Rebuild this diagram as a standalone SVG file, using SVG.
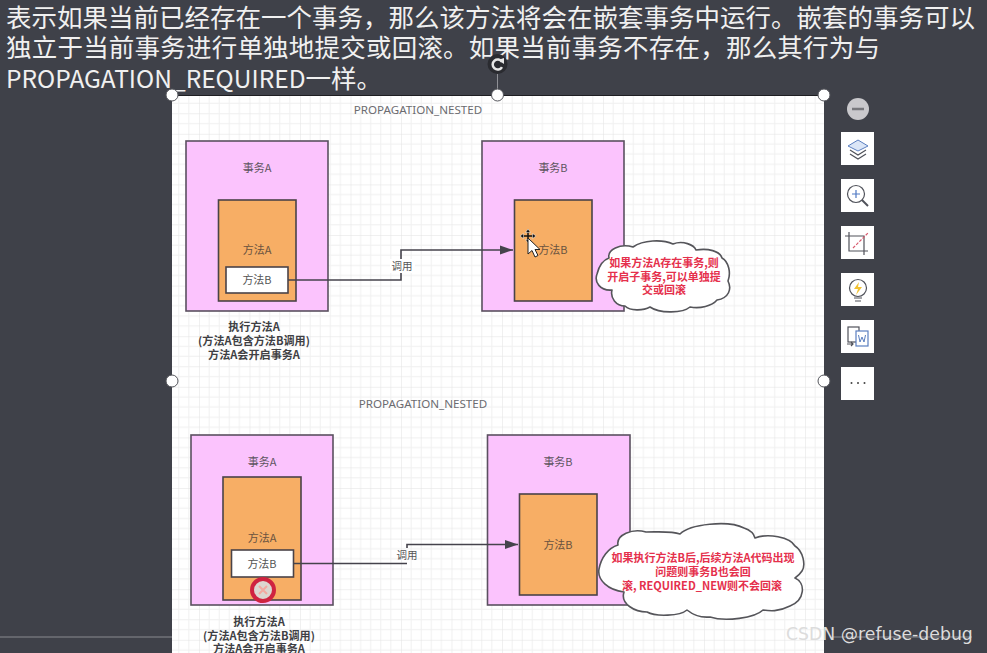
<svg xmlns="http://www.w3.org/2000/svg" width="987" height="653" viewBox="0 0 987 653">
<style>
text{font-family:"Noto Sans CJK SC","Noto Sans",sans-serif}
.tx{font-size:11px;fill:#5e5560;text-anchor:middle}
.tm{font-size:11px;fill:#6a5340;text-anchor:middle}
.tw{font-size:11px;fill:#555;text-anchor:middle}
.cap{font-size:11.100px;font-weight:700;fill:#3f3f44;text-anchor:middle}
.title{font-size:11.600px;fill:#6b6b70;text-anchor:middle;font-family:"Noto Sans",sans-serif}
.head{font-size:25.500px;fill:#f0f0f0}
.pink{fill:#fbc3fd;stroke:#5b5060;stroke-width:1.6}
.org{fill:#f7ae65;stroke:#4a4348;stroke-width:1.6}
.wht{fill:#fff;stroke:#4a4348;stroke-width:1.6}
.conn{fill:none;stroke:#45434c;stroke-width:1.6}
.cloud{fill:#fff;stroke:#55555a;stroke-width:1.6;stroke-linejoin:round}
.red{font-size:11px;font-weight:700;fill:#e5304c;text-anchor:middle}
.handle{fill:#fff;stroke:#55565c;stroke-width:1}
.btn{fill:#fff}
.ic{fill:none;stroke:#50525a;stroke-width:1.2}
</style>
<defs>
<pattern id="grid" x="350.5" y="184.4" width="50.5" height="50.6" patternUnits="userSpaceOnUse">
<path d="M10.1 0V50.6M20.2 0V50.6M30.3 0V50.6M40.4 0V50.6M0 10.1H50.5M0 20.2H50.5M0 30.4H50.5M0 40.5H50.5" stroke="#f0f0f0" stroke-width="1" fill="none"/>
<path d="M0 0V50.6M0 0H50.5" stroke="#e2e2e2" stroke-width="1" fill="none"/>
</pattern>
<marker id="arr" markerUnits="userSpaceOnUse" markerWidth="14" markerHeight="10" refX="13" refY="5" orient="auto"><path d="M0 .5L13 5L0 9.500Z" fill="#45434c"/></marker>
</defs>
<rect width="987" height="653" fill="#3f4149"/>
<path d="M0 637H172M833 637H972" stroke="#8a8b90" stroke-width="1"/>
<g id="canvas">
<rect x="172" y="96" width="652" height="557" fill="#fff"/>
<rect x="172" y="96" width="652" height="557" fill="url(#grid)"/>
<path d="M172 95.500H824" stroke="#1e1e22" stroke-width="1"/>
</g>
<g id="heading">
<text class="head" x="6" y="26.500" textLength="969" lengthAdjust="spacing">表示如果当前已经存在一个事务，那么该方法将会在嵌套事务中运行。嵌套的事务可以</text>
<text class="head" x="6" y="57" textLength="874" lengthAdjust="spacing">独立于当前事务进行单独地提交或回滚。如果当前事务不存在，那么其行为与</text>
<text class="head" x="6" y="87.500"><tspan style="font-size:24.500px">PROPAGATION_REQUIRED</tspan>一样。</text>
</g>
<text class="title" x="418" y="113.500">PROPAGATION_NESTED</text>
<text class="title" x="423" y="407.500">PROPAGATION_NESTED</text>

<g id="tx-a-1"><rect class="pink" x="186" y="141" width="142" height="170"/><text class="tx" x="257" y="172">事务A</text></g>
<g id="method-a-1"><rect class="org" x="218.500" y="200" width="77.500" height="101"/><text class="tm" x="257" y="254">方法A</text></g>
<g id="method-b-in-a-1"><rect class="wht" x="226" y="267" width="62" height="26"/><text class="tw" x="257" y="284">方法B</text></g>
<g id="tx-b-1"><rect class="pink" x="482" y="141" width="142" height="170"/><text class="tx" x="553" y="172">事务B</text></g>
<g id="method-b-1"><rect class="org" x="514.500" y="200" width="77.500" height="101"/><text class="tm" x="553" y="254">方法B</text></g>
<g id="caption-1">
<text class="cap" x="254" y="331">执行方法A</text>
<text class="cap" x="254" y="345">(方法A包含方法B调用)</text>
<text class="cap" x="254" y="358.500">方法A会开启事务A</text>
</g>

<g id="tx-a-2"><rect class="pink" x="191" y="435" width="142" height="170"/><text class="tx" x="262" y="466">事务A</text></g>
<g id="method-a-2"><rect class="org" x="223" y="477" width="78" height="123"/><text class="tm" x="262" y="542">方法A</text></g>
<g id="method-b-in-a-2"><rect class="wht" x="231.500" y="550" width="62" height="27"/><text class="tw" x="262" y="568">方法B</text></g>
<g id="error-mark">
<circle cx="263" cy="590" r="11" fill="#dcd6d0" stroke="#cf2340" stroke-width="4"/>
<path d="M259 586L267 594M267 586L259 594" stroke="#f3a9a0" stroke-width="2"/>
</g>
<g id="tx-b-2"><rect class="pink" x="487.500" y="435" width="142.500" height="170"/><text class="tx" x="558" y="466">事务B</text></g>
<g id="method-b-2"><rect class="org" x="519.500" y="494" width="77.500" height="101"/><text class="tm" x="558" y="549">方法B</text></g>
<g id="caption-2">
<text class="cap" x="259" y="626">执行方法A</text>
<text class="cap" x="259" y="640">(方法A包含方法B调用)</text>
<text class="cap" x="259" y="653">方法A会开启事务A</text>
</g>

<g id="connectors">
<path class="conn" d="M288 280H401V250H513" marker-end="url(#arr)"/>
<path class="conn" d="M293 563.500H407M407 548V544.500H518" marker-end="url(#arr)"/>
</g>
<g id="label-1"><rect x="390" y="259" width="25" height="14" fill="#fff"/><text class="tw" x="402" y="270" style="font-size:10.500px">调用</text></g>
<g id="label-2"><text class="tw" x="407" y="559" style="font-size:10.500px">调用</text></g>

<g id="cloud-1">
<path class="cloud" d="M612 290C600 291 594 282 597 274C599 266 603 260 609 258C607 250 620 243 633 247C643 240 662 239 673 244C683 240 694 245 696 250C708 248 720 251 722 258C729 262 731 273 728 281C732 289 729 298 717 300C712 306 700 309 690 307C683 313 660 314 650 307C643 311 630 311 625 306C616 306 610 298 612 290Z"/>
<text class="red" x="664" y="267">如果方法A存在事务,则</text>
<text class="red" x="664" y="281">开启子事务,可以单独提</text>
<text class="red" x="664" y="294">交或回滚</text>
</g>
<g id="cursor">
<path d="M528 231V241M523 236H533" stroke="#111" stroke-width="1.500"/>
<path d="M528 229L525.500 232.500H530.500ZM528 243L525.500 239.500H530.500ZM520 236L523.500 233.500V238.500ZM536 236L532.500 233.500V238.500Z" fill="#111" stroke="#fff" stroke-width=".5"/>
<path d="M528 238V254L532 250.500L535 257L538 255.500L535 249.500H540Z" fill="#fff" stroke="#222" stroke-width="1"/>
</g>
<g id="cloud-2">
<path class="cloud" d="M624 592C608 590 597 580 599 569C601 558 608 548 618 545C616 535 632 528 646 532C660 532 672 531 680 534C690 524 728 520 744 528C750 530 754 534 755 538C768 533 790 537 795 546C803 551 806 565 802 571C800 574 798 576 795 578C806 583 805 600 790 606C778 612 770 611 763 610C755 618 725 622 710 617C700 618 692 614 687 610C680 616 656 617 647 612C635 612 620 604 624 592Z"/>
<text class="red" x="703" y="562">如果执行方法B后,后续方法A代码出现</text>
<text class="red" x="703" y="576">问题则事务B也会回</text>
<text class="red" x="702" y="590">滚, REQUIRED_NEW则不会回滚</text>
</g>

<g id="handles">
<path d="M497.500 72V95" stroke="#8f9096" stroke-width="1"/>
<circle class="handle" cx="172" cy="95" r="6"/>
<circle class="handle" cx="497.500" cy="95" r="6"/>
<circle class="handle" cx="824" cy="95" r="6"/>
<circle class="handle" cx="172" cy="381" r="6"/>
<circle class="handle" cx="824" cy="381" r="6"/>
<circle cx="497.500" cy="64" r="10" fill="#2a2b30"/>
<path d="M502 62A5 5 0 1 0 502 67" fill="none" stroke="#e6e6e6" stroke-width="2.500"/>
<path d="M498 60L504 58V64Z" fill="#e6e6e6"/>
</g>

<g id="toolbar">
<circle cx="858" cy="109" r="11" fill="#c9c8cc"/><path d="M852 109H864" stroke="#77777c" stroke-width="2.500"/>
<rect class="btn" x="841" y="132" width="33" height="33"/>
<path d="M858 140L868 146L858 151L848 146Z" fill="#dbe6f7" stroke="#5b7fc0" stroke-width="1"/>
<path class="ic" d="M850 150L858 155L866 150M850 154L858 159L866 154"/>
<rect class="btn" x="841" y="179" width="33" height="33"/>
<circle class="ic" cx="856" cy="194" r="8.500"/><path d="M852 194H860M856 190V198" stroke="#4f78c4" stroke-width="1.200"/><path d="M862 200L868 206" stroke="#50525a" stroke-width="2"/>
<rect class="btn" x="841" y="226" width="33" height="33"/>
<path class="ic" d="M849 232V251H868M845 236H864V255"/><path d="M853 248L868 233" stroke="#d85a6e" stroke-width="1.200" stroke-dasharray="3 1.500"/>
<rect class="btn" x="841" y="273" width="33" height="33"/>
<circle class="ic" cx="858" cy="288" r="8.500"/><path d="M859 282L854 289H858L856 295L862 287H858Z" fill="#f2c230"/><path d="M854 298H862M855 301H861" stroke="#50525a" stroke-width="1.200"/>
<rect class="btn" x="841" y="320" width="33" height="33"/>
<rect class="ic" x="848" y="327" width="11" height="15"/><rect x="856" y="331" width="12" height="15" fill="#fff" stroke="#5b7fc0" stroke-width="1.200"/><path d="M858.500 335L860 342L862 337L864 342L865.500 335" fill="none" stroke="#5b7fc0" stroke-width="1"/><path class="ic" d="M847 344H853M851 342L853 344L851 346"/>
<rect class="btn" x="841" y="367" width="33" height="33"/>
<circle cx="851.500" cy="383" r="1" fill="#444"/><circle cx="858" cy="383" r="1" fill="#444"/><circle cx="864.500" cy="383" r="1" fill="#444"/>
</g>

<text x="786" y="640" style="font-family:'DejaVu Sans',sans-serif;font-size:17.300px;fill:#dcdcdc">CSDN @refuse-debug</text>
</svg>
